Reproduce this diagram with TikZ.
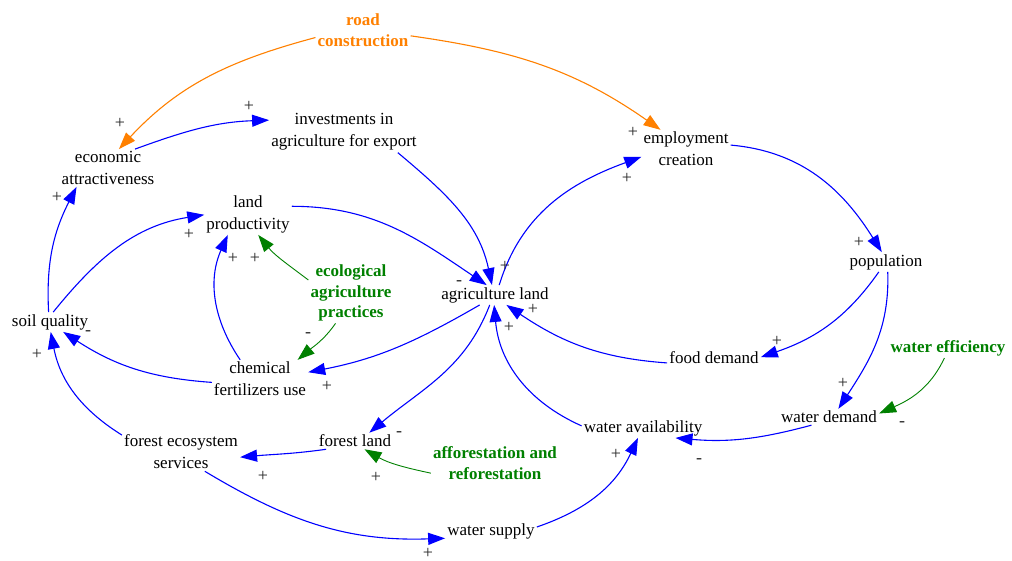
\documentclass[tikz,border=0pt]{standalone}
\usepackage{fontspec}
\setmainfont{Liberation Serif}
\usepackage{xcolor}
\usepackage{tikz}
\usetikzlibrary{arrows.meta}

\definecolor{loopblue}{RGB}{0,0,255}
\definecolor{roadorange}{RGB}{255,128,0}
\definecolor{policygreen}{RGB}{0,128,0}
\definecolor{signgray}{RGB}{40,40,40}

\begin{document}
\begin{tikzpicture}[x=1pt, y=1pt,
  every node/.style={font=\fontsize{17}{22}\selectfont, align=center, inner sep=2pt},
  var/.style={text=black},
  policy/.style={font=\fontsize{17}{20.5}\selectfont\bfseries},
  link/.style={draw=loopblue, line width=1.1pt, -{Triangle[length=17pt,width=12pt]}},
  lever/.style={link, line width=0.9pt},
  sign/.style={font=\fontsize{18}{18}\selectfont, text=signgray, inner sep=0pt}]
  \useasboundingbox (0,0) rectangle (1012,-560);

  % ---- variables ----
  \node[policy, text=roadorange] (road) at (363,-30) {road\\construction};
  \node[var] (invest) at (344,-132) {investments in\\agriculture for export};
  \node[var] (econ) at (108,-168) {economic\\attractiveness};
  \node[var] (employ) at (686,-149) {employment\\creation};
  \node[var] (landprod) at (248,-214) {land\\productivity};
  \node[policy, text=policygreen] (ecolog) at (351,-293) {ecological\\agriculture\\practices};
  \node[var] (agri) at (495,-295) {agriculture land};
  \node[var] (soil) at (50,-322) {soil quality};
  \node[var] (pop) at (886,-262) {population};
  \node[var] (chem) at (260,-379) {chemical\\fertilizers use};
  \node[var] (food) at (714,-358) {food demand};
  \node[policy, text=policygreen] (watereff) at (948,-348) {water efficiency};
  \node[var] (wdemand) at (829,-417) {water demand};
  \node[var] (wavail) at (643,-428) {water availability};
  \node[var] (foreco) at (181,-452) {forest ecosystem\\services};
  \node[var] (forland) at (355,-441) {forest land};
  \node[policy, text=policygreen] (affor) at (495,-463) {afforestation and\\reforestation};
  \node[var] (wsupply) at (491,-531) {water supply};

  % ---- road construction ----
  \draw[link, draw=roadorange] (road.189) to[out=195,in=47] (econ.60);
  \draw[link, draw=roadorange] (road.353) to[out=352,in=145] (employ.143);

  % ---- causal links ----
  \draw[link] (econ.35) to[out=20,in=182] (invest.171);
  \draw[link] (invest.339) to[out=320,in=102] (agri.107);
  \draw[link] (landprod.10) to[out=0,in=146] (agri.130);
  \draw[link] (agri.67) to[out=73,in=200] (employ.190);
  \draw[link] (employ.5) to[out=355,in=122] (pop.113);
  \draw[link] (pop.234) to[out=235,in=19] (food.1);
  \draw[link] (pop.280) to[out=272,in=57] (wdemand.41);
  \draw[link] (wdemand.205) to[out=195,in=355] (wavail.343);
  \draw[link] (food.186) to[out=176,in=326] (agri.319);
  \draw[link] (wavail.178) to[out=156,in=275] (agri.265);
  \draw[link] (agri.213) to[out=210,in=11] (chem.8);
  \draw[link] (agri.242) to[out=249,in=40] (forland.30);
  \draw[link] (forland.196) to[out=188,in=5] (foreco.355);
  \draw[link] (foreco.164) to[out=148,in=281] (soil.274);
  \draw[link] (foreco.321) to[out=329,in=182] (wsupply.189);
  \draw[link] (wsupply.5) to[out=19,in=245] (wavail.243);
  \draw[link] (chem.184) to[out=176,in=327] (soil.323);
  \draw[link] (chem.136) to[out=124,in=246] (landprod.226);
  \draw[link] (soil.98) to[out=93,in=243] (econ.211);
  \draw[link] (soil.72) to[out=51,in=189] (landprod.181);

  % ---- policy levers ----
  \draw[lever, draw=policygreen] (ecolog.163) to[out=143,in=309] (landprod.296);
  \draw[lever, draw=policygreen] (ecolog.243) to[out=235,in=40] (chem.27);
  \draw[lever, draw=policygreen] (watereff.250) to[out=245,in=24] (wdemand.4);
  \draw[lever, draw=policygreen] (affor.189) to[out=168,in=330] (forland.319);

  % ---- polarities ----
  \foreach \s/\x/\y [count=\i] in {+/120/123, +/633/132, +/249/106, +/505/266,
      -/459/283, +/627/178, +/859/242, +/777/341, +/843/383, -/902/424,
      -/699/461, +/533/309, +/509/327, +/327/386, -/399/434, +/376/477,
      +/263/476, +/37/354, +/428/553, +/616/454, -/88/333, +/233/258,
      +/255/258, -/308/335, +/57/197, +/189/234}
    \node[sign] (sign-\i) at (\x,-\y) {\s};
\end{tikzpicture}
\end{document}
